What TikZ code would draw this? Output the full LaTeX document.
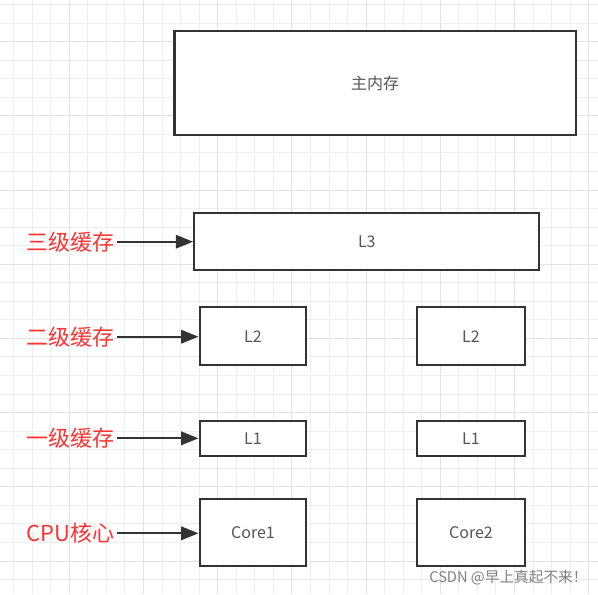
\documentclass[tikz,border=0pt]{standalone}
\usepackage{fontspec}
\setmainfont{Noto Sans CJK SC}
\usepackage{tikz}
\usetikzlibrary{arrows.meta,positioning}
\definecolor{gridminor}{RGB}{238,238,238}
\definecolor{gridmajor}{RGB}{226,226,226}
\definecolor{boxline}{RGB}{51,51,51}
\definecolor{boxtext}{RGB}{85,85,85}
\definecolor{labelred}{RGB}{255,51,51}
\tikzset{
    cachebox/.style={draw=boxline, line width=1.7pt, fill=white, inner sep=0pt,
        text=boxtext, font=\fontsize{12pt}{14pt}\selectfont},
    levellabel/.style={anchor=east, inner sep=0pt, text=labelred,
        font=\fontsize{16.5pt}{18pt}\selectfont},
    levelarrow/.style={draw=boxline, line width=1.6pt,
        -{Triangle[length=13pt,width=10pt]}},
}

\begin{document}
\begin{tikzpicture}[x=0.75pt, y=-0.75pt]
                        \useasboundingbox (0,0) rectangle (598,594);
                        \fill[white] (0,0) rectangle (598,594);
                        \foreach \i in {0,...,31} {
                            \draw[gridminor, line width=0.75pt] ({13.65+18.55*\i},0) -- ++(0,594);
                            \draw[gridminor, line width=0.75pt] (0,{4.5+18.55*\i}) -- ++(598,0);
                        }
                        \foreach \k in {0,...,7}
                            \draw[gridmajor, line width=0.75pt] ({69.3+74.2*\k},0) -- ++(0,594);
                        \foreach \k in {-2,...,5}
                            \draw[gridmajor, line width=0.75pt] (0,{190+74.2*\k}) -- ++(598,0);

                        \node[cachebox, minimum width=300.9pt, minimum height=78pt] (mainmem) at (375.1,83) {主内存};
                        \node[cachebox, minimum width=258.75pt, minimum height=42.3pt] (l3) at (366.8,241.5) {L3};
                        \node[cachebox, minimum width=80pt, minimum height=43.3pt] (l2a) at (253,336.2) {L2};
                        \node[cachebox, minimum width=80.5pt, minimum height=43.3pt] (l2b) at (471,336.2) {L2};
                        \node[cachebox, minimum width=80pt, minimum height=25.8pt] (l1a) at (253,438.5) {L1};
                        \node[cachebox, minimum width=80.5pt, minimum height=25.8pt] (l1b) at (471,438.5) {L1};
                        \node[cachebox, minimum width=80pt, minimum height=50.25pt] (core1) at (253,532.5) {Core1};
                        \node[cachebox, minimum width=80.5pt, minimum height=50.25pt] (core2) at (471,532.5) {Core2};

                        \node[levellabel] (lbl3) at (115,241.7) {三级缓存};
                        \node[levellabel] (lbl2) at (115,336.7) {二级缓存};
                        \node[levellabel] (lbl1) at (115,438.3) {一级缓存};
                        \node[levellabel] (lblcpu) at (115,533.3) {CPU核心};
                        \draw[levelarrow] ([xshift=1.5pt]lbl3.east) -- (lbl3.east -| l3.west);
                        \draw[levelarrow] ([xshift=1.5pt]lbl2.east) -- (lbl2.east -| l2a.west);
                        \draw[levelarrow] ([xshift=1.5pt]lbl1.east) -- (lbl1.east -| l1a.west);
                        \draw[levelarrow] ([xshift=1.5pt]lblcpu.east) -- (lblcpu.east -| core1.west);

                        \node[anchor=west, inner sep=0pt, text=gray, font=\fontsize{11pt}{12pt}\selectfont] (mark) at (429,578) {CSDN @早上真起不来！};
                    \end{tikzpicture}
\end{document}
